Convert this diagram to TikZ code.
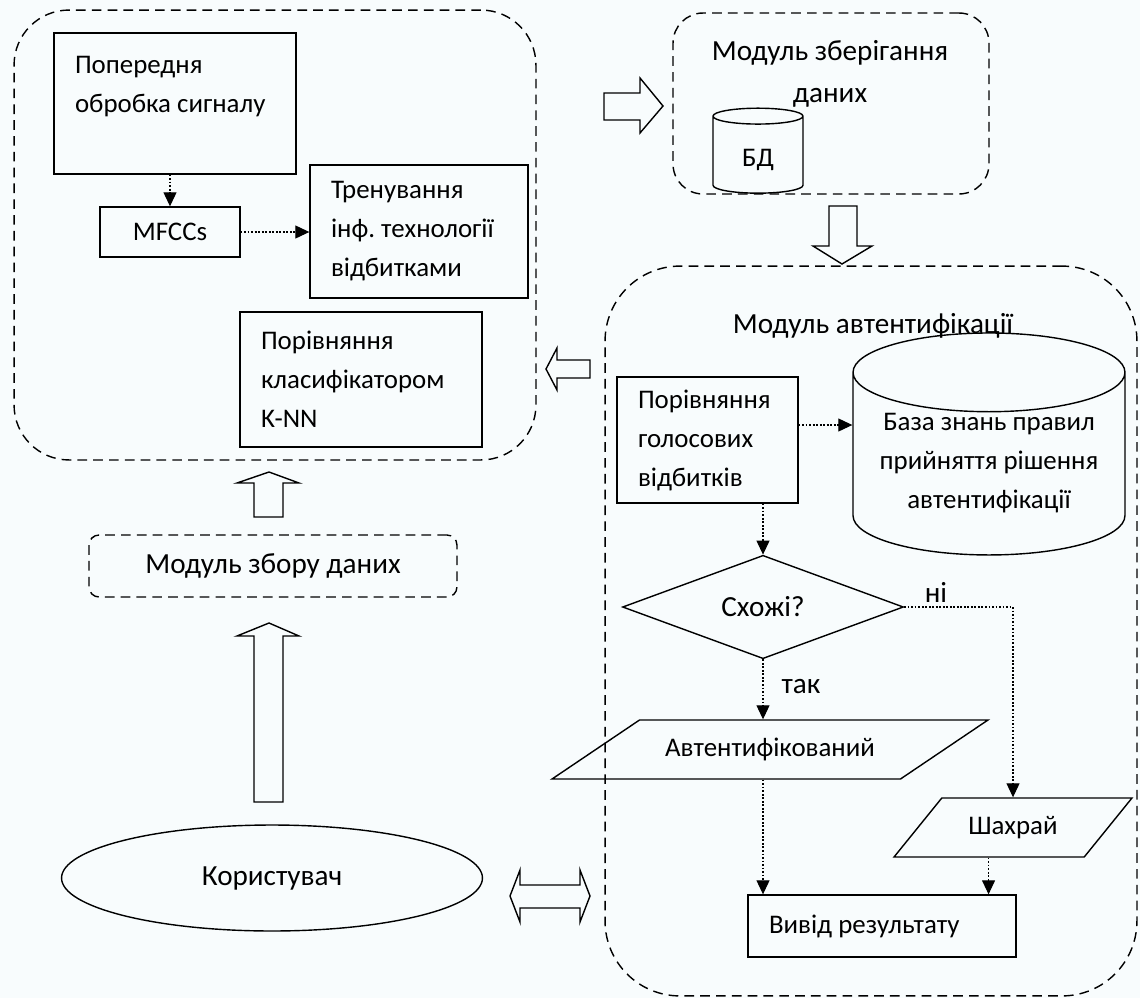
\documentclass[tikz,border=0pt]{standalone}
\usepackage{fontspec}
\setmainfont{Carlito}
\usetikzlibrary{arrows.meta, positioning, shapes.geometric}
\definecolor{paper}{RGB}{248,252,253}
\tikzset{
  module/.style={rectangle,draw,dash pattern=on 5.5pt off 3.5pt,line width=0.8pt},
  title/.style={font=\fontsize{16.6pt}{23.9pt}\selectfont},
  box/.style={rectangle,draw,line width=0.8pt,align=flush left,inner xsep=0.42cm,inner ysep=0pt},
  store/.style={cylinder,draw,line width=0.8pt,shape border rotate=90,align=center,inner sep=0pt},
  io/.style={trapezium,draw,line width=0.8pt,trapezium stretches body,inner xsep=0pt,inner ysep=0.34cm,text height=0.38cm,text depth=0.12cm},
  decision/.style={diamond,draw,line width=0.8pt,inner sep=0pt},
  line/.style={line width=0.6pt,dash pattern=on 1pt off 1pt,-{Triangle[length=0.28cm,width=0.26cm]}},
  block/.style={draw,line width=0.8pt,fill=paper,line join=miter}
}

\begin{document}
\begin{tikzpicture}[x=0.02cm,y=-0.02cm,every node/.style={font=\fontsize{15.3pt}{22.2pt}\selectfont}]
\fill[paper] (0,0) rectangle (1140,998);
\useasboundingbox (0,0) rectangle (1140,998);
\node[module,rounded corners=1.1cm,minimum width=10.44cm,minimum height=9cm] (proc) at (275,235) {};
\node[module,rounded corners=0.6cm,minimum width=6.32cm,minimum height=3.62cm] (stor) at (831,103.5) {};
\node[module,rounded corners=1.5cm,minimum width=10.64cm,minimum height=14.6cm] (auth) at (871,631) {};
\node[module,title,rounded corners=0.2cm,minimum width=7.36cm,minimum height=1.24cm] (coll) at (273,566) {Модуль збору даних};

\node[box,text width=4cm,minimum height=2.82cm] (prep) at (175,103.5) {Попередня\\обробка~сигналу\\\mbox{}};
\node[box,align=center,minimum width=2.8cm,minimum height=1cm] (mfcc) at (170,232) {MFCCs};
\node[box,text width=3.52cm,minimum height=2.66cm] (train) at (419,231.5) {Тренування\\інф.~технології\\відбитками};
\node[box,text width=4cm,minimum height=2.7cm] (knn) at (361,379.5) {Порівняння\\класифікатором\\K-NN};

\node[title,align=center] (stortitle) at (830,74) {Модуль зберігання\\даних};
\node[store,aspect=0.5,minimum width=1.8cm,minimum height=1.7cm] (db) at (758,155) {\phantom{БД}};
\node (dbtext) at (758,160) {БД};

\node[title] (authtitle) at (873,326) {Модуль автентифікації};
\node[store,aspect=0.36,minimum width=5.44cm,minimum height=4.44cm] (kb) at (989,464) {\phantom{База знань правил}\\\phantom{прийняття рішення}\\\phantom{автентифікації}};
\node[align=center] (kbtext) at (989,463) {База знань правил\\прийняття~рішення\\автентифікації};
\node[box,text width=2.78cm,minimum height=2.52cm] (cmp) at (707.5,440) {Порівняння\\голосових\\відбитків};
\node[decision,title,minimum width=5.62cm,minimum height=2.04cm] (dia) at (763,607) {Схожі?};
\node[title] (no) at (936,592) {ні};
\node[title] (yes) at (801,687) {так};
\node[io,trapezium left angle=34,trapezium right angle=146,minimum width=8.72cm] (ok) at (770,749.5) {Автентифікований};
\node[io,trapezium left angle=51,trapezium right angle=129,minimum width=4.76cm] (fraud) at (1013,827.5) {Шахрай};
\node[box,text width=4.52cm,minimum height=1.24cm] (out) at (882,926) {Вивід результату};

\node[ellipse,draw,title,line width=0.8pt,minimum width=8.42cm,minimum height=2.12cm] (user) at (272,878) {Користувач};

\draw[line] (mfcc.north |- prep.south) -- (mfcc.north);
\draw[line] (mfcc.east) -- (mfcc.east -| train.west);
\coordinate (kbin) at ([yshift=0.3cm]cmp.east);
\draw[line] (kbin) -- (kbin -| kb.west);
\draw[line] (dia.north |- cmp.south) -- (dia.north);
\draw[line] (dia.south) -- (dia.south |- ok.north);
\draw[line] (dia.east) -| (fraud.north);
\draw[line] (dia.south |- ok.south) -- (dia.south |- out.north);
\draw[line] (fraud.bottom side) -- (fraud.bottom side |- out.north);

\draw[block] (604,93) -- (640,93) -- (640,78) -- (663,106) -- (640,133) -- (640,120) -- (604,120) -- cycle;
\draw[block] (829,206) -- (857,206) -- (857,246) -- (872,246) -- (842,264) -- (813,246) -- (829,246) -- cycle;
\draw[block] (590,360) -- (557,360) -- (557,348) -- (546,369) -- (557,390) -- (557,378) -- (590,378) -- cycle;
\draw[block] (254,517) -- (254,483) -- (237,483) -- (269,472) -- (299,483) -- (283,483) -- (283,517) -- cycle;
\draw[block] (254,802) -- (254,636) -- (237,636) -- (269,623) -- (299,636) -- (283,636) -- (283,802) -- cycle;
\draw[block] (510,896) -- (520,870) -- (520,885) -- (580,885) -- (580,870) -- (590,896) -- (580,922) -- (580,908) -- (520,908) -- (520,922) -- cycle;
\end{tikzpicture}
\end{document}
